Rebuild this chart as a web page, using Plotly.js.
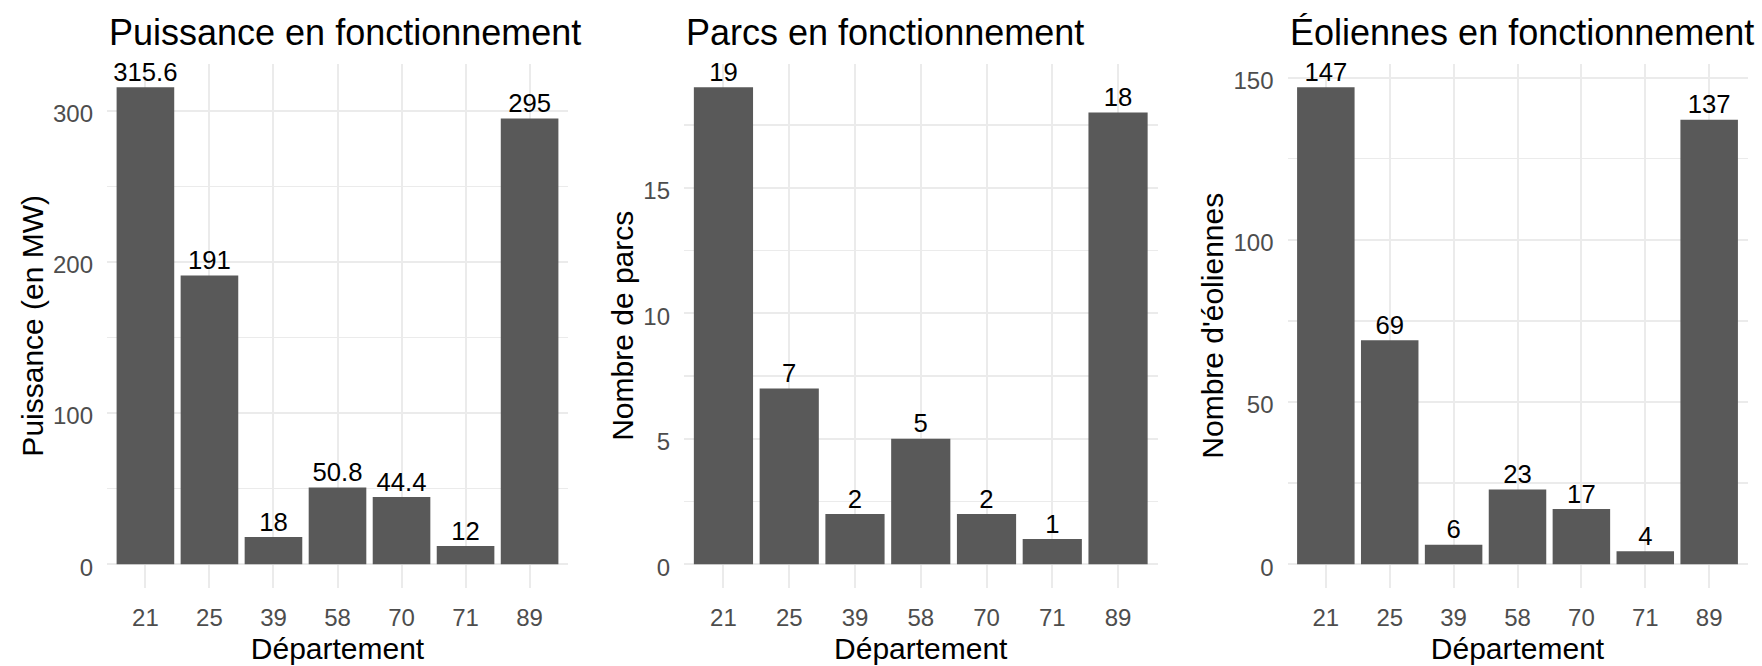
<!DOCTYPE html>
<html>
<head>
<meta charset="utf-8">
<script src="https://cdn.plot.ly/plotly-3.0.1.min.js"></script>
<style>
html,body{margin:0;padding:0;background:#fff;}
#chart{width:1762px;height:666px;}
</style>
</head>
<body>
<div id="chart"></div>
<script>
// ---- Data ----
const departements = ['21', '25', '39', '58', '70', '71', '89'];
const puissance = [315.6, 191, 18, 50.8, 44.4, 12, 295];
const parcs = [19, 7, 2, 5, 2, 1, 18];
const eoliennes = [147, 69, 6, 23, 17, 4, 137];

const titres = ['Puissance en fonctionnement', 'Parcs en fonctionnement', 'Éoliennes en fonctionnement'];
const titresY = ['Puissance (en MW)', 'Nombre de parcs', "Nombre d'éoliennes"];
const titreX = 'Département';

// ---- Style ----
const FONT = '"Liberation Sans", Arial, sans-serif';
const W = 1762, H = 666;
const BAR = '#595959';
const GRID = '#EBEBEB';
const TICKC = '#4D4D4D';

const panels = [
  {values: puissance, x0: 107, x1: 568, dtick: 100, minor: 50},
  {values: parcs, x0: 684, x1: 1157.5, dtick: 5, minor: 2.5},
  {values: eoliennes, x0: 1287.5, x1: 1747.5, dtick: 50, minor: 25}
];
const TOP = 63.5, BOTTOM = 588;

const traces = [];
const layout = {
  width: W, height: H,
  margin: {l: 0, r: 0, t: 0, b: 0},
  paper_bgcolor: '#fff', plot_bgcolor: '#fff',
  showlegend: false,
  font: {family: FONT, color: '#000'},
  annotations: []
};

panels.forEach((p, i) => {
  const n = i === 0 ? '' : String(i + 1);
  const xa = 'x' + n, ya = 'y' + n;
  const vmax = Math.max(...p.values);
  traces.push({
    type: 'bar', x: departements, y: p.values, xaxis: xa, yaxis: ya,
    width: 0.9, marker: {color: BAR, line: {width: 0}}, hoverinfo: 'skip'
  });
  traces.push({
    type: 'scatter', mode: 'text', x: departements, y: p.values, xaxis: xa, yaxis: ya,
    text: p.values.map(String), textposition: 'top center',
    textfont: {family: FONT, size: 25.7, color: '#000'}, cliponaxis: false, hoverinfo: 'skip'
  });
  layout['xaxis' + n] = {
    type: 'category', domain: [p.x0 / W, p.x1 / W], anchor: ya,
    range: [-0.6, 6.6], showgrid: true, gridcolor: GRID, gridwidth: 2,
    zeroline: false, showline: false, ticks: '', ticklabelstandoff: 13,
    tickfont: {family: FONT, size: 24, color: TICKC},
    title: {text: titreX, font: {family: FONT, size: 30, color: '#000'}, standoff: 7},
    automargin: false, fixedrange: true
  };
  layout['yaxis' + n] = {
    domain: [(H - BOTTOM) / H, (H - TOP) / H], anchor: xa,
    range: [-0.05 * vmax, 1.05 * vmax], dtick: p.dtick, tick0: 0,
    showgrid: true, gridcolor: GRID, gridwidth: 2,
    minor: {dtick: p.minor, tick0: 0, showgrid: true, gridcolor: GRID, gridwidth: 1.3, ticks: ''},
    zeroline: false, showline: false, ticks: '', ticklabelstandoff: 13, ticklabelshift: 3,
    tickfont: {family: FONT, size: 24, color: TICKC},
    title: {text: titresY[i], font: {family: FONT, size: 30, color: '#000'}, standoff: 0},
    automargin: false, fixedrange: true
  };
  layout.annotations.push({
    text: titres[i], xref: 'paper', yref: 'paper',
    x: p.x0 / W, y: (H - 32.5) / H, xanchor: 'left', yanchor: 'middle',
    showarrow: false, font: {family: FONT, size: 36, color: '#000'}
  });
});

Plotly.newPlot('chart', traces, layout, {staticPlot: true, displayModeBar: false});
</script>
</body>
</html>
